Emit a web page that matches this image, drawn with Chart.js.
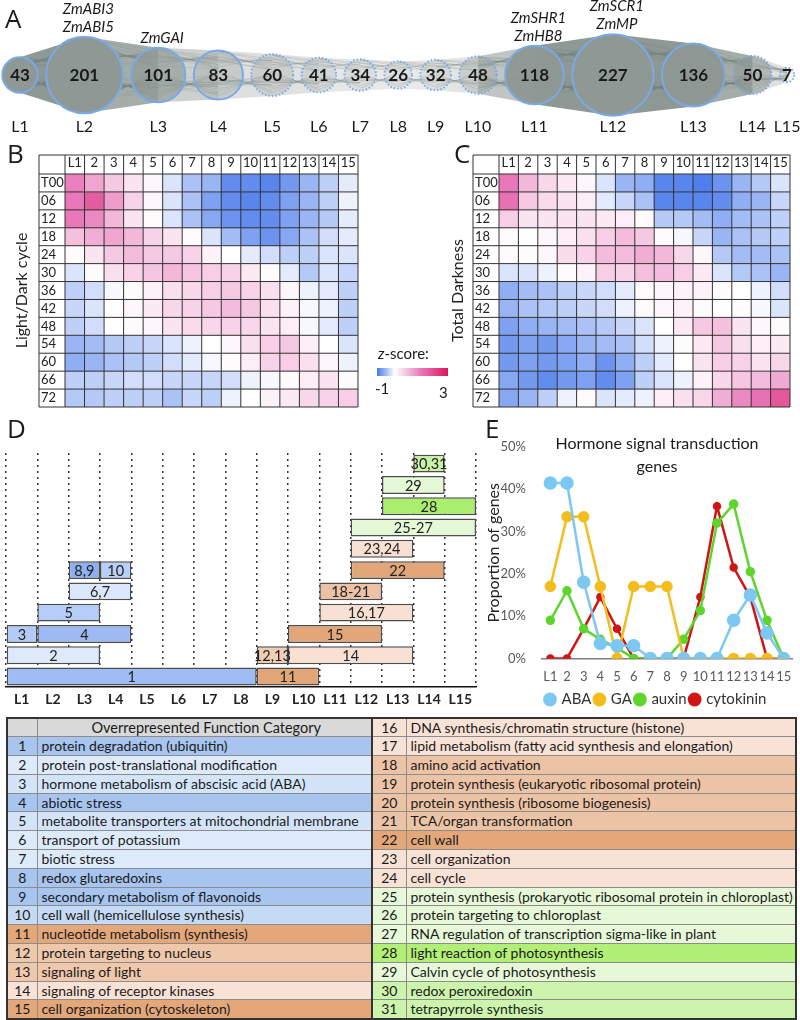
<!DOCTYPE html>
<html>
<head>
<meta charset="utf-8">
<title>Maize root module network</title>
<script src="https://cdn.jsdelivr.net/npm/chart.js@4.4.1/dist/chart.umd.min.js"></script>
<style>
  html, body { margin: 0; padding: 0; background: #fff; overflow: hidden; }
  body { position: relative; width: 800px; height: 1020px; font-family: Lato, sans-serif; color: #1b1b1b; }
  .pane { position: absolute; }
  .letter { position: absolute; font-family: 'Open Sans', sans-serif; font-size: 26px; line-height: 26px; z-index: 3; }
  #zkey { position: absolute; left: 372px; top: 353px; width: 84px; font-size: 15px; z-index: 3; }
  #zkey .bar { position: absolute; left: 5px; top: 15px; width: 71px; height: 8px;
    background: linear-gradient(to right, rgb(70,120,235) 0%, #fff 25%, rgb(232,120,185) 62%, rgb(222,20,95) 100%); }
  #zkey .t { position: absolute; left: 6px; top: -9px; white-space: nowrap; }
  #zkey .lo { position: absolute; left: 3px; top: 26px; }
  #zkey .hi { position: absolute; left: 67px; top: 30px; }
  #eTitle { position: absolute; left: 517px; width: 280px; top: 431px; text-align: center; font-size: 16px; line-height: 23px; z-index: 3; }
  #catTable { position: absolute; left: 6px; top: 717px; width: 789px; border-collapse: collapse; table-layout: fixed; font-size: 14px; border: 2px solid #333; }
  #catTable tr { height: 18.8px; }
  #catTable td { padding: 0 0 0 4px; border: 1px solid #8c8c8c; white-space: nowrap; overflow: hidden; line-height: 16px; }
  #catTable td.n { text-align: center; padding: 0; }
  #catTable td.mid { border-left: 2px solid #333; }
  #catTable td.head { background: #d9d9d9; text-align: center; font-size: 14.5px; }
</style>
</head>
<body>
<div class="letter" style="left:5px;top:5px">A</div>
<div class="letter" style="left:7px;top:140px">B</div>
<div class="letter" style="left:454px;top:140px">C</div>
<div class="letter" style="left:7px;top:415px">D</div>
<div class="letter" style="left:485px;top:415px">E</div>

<div class="pane" style="left:0;top:0;width:800px;height:140px"><canvas id="netChart"></canvas></div>
<div class="pane" style="left:0;top:140px;width:400px;height:270px"><canvas id="lightChart"></canvas></div>
<div class="pane" style="left:400px;top:140px;width:400px;height:270px"><canvas id="darkChart"></canvas></div>
<div class="pane" style="left:0;top:440px;width:490px;height:272px"><canvas id="enrichChart"></canvas></div>
<div class="pane" style="left:480px;top:415px;width:320px;height:302px"><canvas id="hormoneChart"></canvas></div>

<div id="zkey"><span class="t"><i>z</i>-score:</span><div class="bar"></div><span class="lo">-1</span><span class="hi">3</span></div>
<div id="eTitle">Hormone signal transduction<br>genes</div>
<table id="catTable"></table>

<script>
// ---- data ----
const moduleNames = ['L1', 'L2', 'L3', 'L4', 'L5', 'L6', 'L7', 'L8', 'L9', 'L10', 'L11', 'L12', 'L13', 'L14', 'L15'];
const moduleTicks = ['L1', '2', '3', '4', '5', '6', '7', '8', '9', '10', '11', '12', '13', '14', '15'];
const moduleSizes = [43, 201, 101, 83, 60, 41, 34, 26, 32, 48, 118, 227, 136, 50, 7];
const hubGenes = [[], ['ZmABI3', 'ZmABI5'], ['ZmGAI'], [], [], [], [], [], [], [], ['ZmSHR1', 'ZmHB8'], ['ZmSCR1', 'ZmMP'], [], [], []];
// how dense the edge bundles look between neighbours, and inside each module
const linkDensity = [1, 0.8, 0.45, 0.3, 0.28, 0.22, 0.2, 0.2, 0.25, 0.55, 1, 1, 0.8, 0.3];
const moduleDensity = [1, 1, 0.6, 0.3, 0.25, 0.2, 0.15, 0.12, 0.15, 0.3, 0.95, 1, 0.95, 0.55, 0.1];

const hourLabels = ['T00', '06', '12', '18', '24', '30', '36', '42', '48', '54', '60', '66', '72'];
const zLight = [
  [1.4, 1.0, 0.6, 0.3, 0.1, -0.2, -0.45, -0.55, -0.85, -0.85, -0.9, -0.75, -0.55, -0.35, -0.15],
  [1.5, 1.9, 1.1, 0.5, 0.1, -0.2, -0.45, -0.7, -0.85, -0.9, -0.85, -0.7, -0.55, -0.35, -0.1],
  [1.5, 1.3, 0.8, 0.3, 0.05, -0.2, -0.45, -0.65, -0.8, -0.85, -0.85, -0.7, -0.55, -0.4, -0.15],
  [0.7, 0.9, 1.0, 0.8, 0.5, 0.3, 0.05, -0.2, -0.5, -0.7, -0.8, -0.65, -0.45, -0.25, -0.15],
  [0.05, 0.3, 0.6, 0.75, 0.6, 0.6, 0.5, 0.15, 0.0, -0.15, -0.25, -0.35, -0.35, -0.2, -0.2],
  [-0.2, 0.05, 0.35, 0.5, 0.65, 0.8, 0.65, 0.55, 0.5, 0.25, 0.05, -0.15, -0.4, -0.2, -0.3],
  [-0.35, -0.25, -0.05, 0.05, 0.15, 0.35, 0.45, 0.55, 0.6, 0.5, 0.35, 0.1, -0.1, -0.15, -0.35],
  [-0.3, -0.2, 0.0, 0.1, 0.25, 0.45, 0.5, 0.6, 0.75, 0.6, 0.35, 0.15, -0.05, -0.1, -0.35],
  [-0.35, -0.25, 0.0, 0.05, 0.1, 0.3, 0.4, 0.45, 0.5, 0.45, 0.3, 0.2, -0.05, -0.15, -0.35],
  [-0.55, -0.5, -0.4, -0.35, -0.3, -0.2, -0.1, 0.0, 0.1, 0.35, 0.55, 0.6, 0.2, 0.0, -0.2],
  [-0.6, -0.55, -0.45, -0.4, -0.35, -0.25, -0.15, -0.05, 0.05, 0.2, 0.5, 0.55, 0.35, 0.1, -0.1],
  [-0.35, -0.35, -0.3, -0.25, -0.25, -0.3, -0.3, -0.3, -0.25, -0.1, -0.05, 0.05, 0.2, 0.3, 0.05],
  [-0.4, -0.4, -0.35, -0.35, -0.35, -0.45, -0.3, -0.35, -0.1, 0.0, 0.15, 0.25, 0.45, 0.5, 0.55]
];
const zDark = [
  [1.5, 0.8, 0.45, 0.25, 0.1, -0.2, -0.55, -0.6, -0.9, -0.9, -0.95, -0.8, -0.55, -0.4, -0.2],
  [1.6, 0.6, 0.4, 0.3, 0.2, -0.15, -0.3, -0.45, -0.9, -0.9, -0.9, -0.85, -0.6, -0.55, -0.3],
  [0.55, 0.3, 0.3, 0.3, 0.3, 0.25, 0.2, 0.05, -0.4, -0.4, -0.5, -0.6, -0.5, -0.45, -0.35],
  [0.05, 0.0, 0.1, 0.2, 0.35, 0.55, 0.75, 0.6, 0.05, -0.05, -0.3, -0.55, -0.45, -0.4, -0.35],
  [0.05, 0.05, 0.1, 0.4, 0.5, 0.75, 0.75, 0.9, 0.8, 0.45, 0.1, -0.4, -0.5, -0.5, -0.45],
  [-0.2, -0.2, -0.1, 0.05, 0.15, 0.55, 0.5, 0.7, 0.75, 0.55, 0.25, -0.2, -0.4, -0.45, -0.55],
  [-0.6, -0.5, -0.45, -0.35, -0.3, -0.25, -0.15, 0.05, 0.1, 0.15, 0.15, 0.05, 0.0, -0.1, -0.25],
  [-0.55, -0.45, -0.4, -0.35, -0.3, -0.25, -0.1, 0.05, 0.1, 0.15, 0.05, 0.0, 0.05, -0.05, -0.2],
  [-0.7, -0.6, -0.55, -0.5, -0.45, -0.4, -0.3, -0.2, 0.0, 0.25, 0.6, 0.7, 0.3, 0.1, 0.05],
  [-0.75, -0.7, -0.75, -0.65, -0.55, -0.5, -0.45, -0.25, -0.1, 0.05, 0.25, 0.6, 0.35, 0.2, 0.25],
  [-0.75, -0.7, -0.75, -0.7, -0.6, -0.8, -0.6, -0.35, -0.15, 0.0, 0.3, 0.55, 0.5, 0.3, 0.45],
  [-0.65, -0.75, -0.85, -0.75, -0.7, -0.85, -0.7, -0.35, -0.2, -0.1, 0.15, 0.45, 0.65, 0.75, 0.95],
  [-0.65, -0.55, -0.35, -0.1, 0.05, -0.2, -0.15, -0.1, 0.2, 0.35, 0.45, 0.9, 1.3, 1.6, 2.0]
];

// D: enriched categories, spanning modules L(from)..L(to), stacked in rows counted from the bottom
const spanText = ['1', '11', '2', '12,13', '14', '3', '4', '15', '5', '16,17', '6,7', '18-21', '8,9', '10', '22', '23,24', '25-27', '28', '29', '30,31'];
const spanFrom = [1, 9, 1, 9, 10, 1, 2, 10, 2, 11, 3, 11, 3, 4, 12, 12, 12, 13, 13, 14];
const spanTo   = [8, 10, 3, 9, 13, 1, 4, 12, 3, 13, 4, 12, 3, 4, 14, 13, 15, 15, 14, 14];
const spanRow  = [1, 1, 2, 2, 2, 3, 3, 3, 4, 4, 5, 5, 6, 6, 6, 7, 8, 9, 10, 11];
const rowIds = ['1', '2', '3', '4', '5', '6', '7', '8', '9', '10', '11'];

// E: share of hormone signal transduction genes per module (%)
const abaShare       = [41.5, 41.5, 18, 3.5, 3, 3, 0, 0, 0, 0, 0, 9, 15, 6, 0];
const gaShare        = [17, 33.5, 33.5, 17, 0, 17, 17, 17, 0, 0, 0, 0, 0, 0, 0];
const auxinShare     = [9, 16, 7, 4.5, 2.5, 0, 0, 0, 4.5, 11.3, 32, 36.5, 20.5, 9, 0];
const cytokininShare = [0, 0, 7, 14.5, 7, 0, 0, 0, 0, 14.5, 36, 21.5, 14.5, 0, 0];

const categoryNames = [
  'protein degradation (ubiquitin)',
  'protein post-translational modification',
  'hormone metabolism of abscisic acid (ABA)',
  'abiotic stress',
  'metabolite transporters at mitochondrial membrane',
  'transport of potassium',
  'biotic stress',
  'redox glutaredoxins',
  'secondary metabolism of flavonoids',
  'cell wall (hemicellulose synthesis)',
  'nucleotide metabolism (synthesis)',
  'protein targeting to nucleus',
  'signaling of light',
  'signaling of receptor kinases',
  'cell organization (cytoskeleton)',
  'DNA synthesis/chromatin structure (histone)',
  'lipid metabolism (fatty acid synthesis and elongation)',
  'amino acid activation',
  'protein synthesis (eukaryotic ribosomal protein)',
  'protein synthesis (ribosome biogenesis)',
  'TCA/organ transformation',
  'cell wall',
  'cell organization',
  'cell cycle',
  'protein synthesis (prokaryotic ribosomal protein in chloroplast)',
  'protein targeting to chloroplast',
  'RNA regulation of transcription sigma-like in plant',
  'light reaction of photosynthesis',
  'Calvin cycle of photosynthesis',
  'redox peroxiredoxin',
  'tetrapyrrole synthesis'
];

// ---- styles ----
const categoryFill = ['#a7c5ef', '#ddeafa', '#d4e4f8', '#a7c5ef', '#d4e4f8', '#ddeafa', '#ddeafa', '#a7c5ef', '#a7c5ef', '#c5daf4',
  '#e4a77a', '#efc8ab', '#efc8ab', '#f8e2d5', '#e4a77a',
  '#f8e2d5', '#f8e2d5', '#edc3a6', '#edc3a6', '#edc3a6', '#edc3a6', '#e4a77a', '#f8e2d5', '#f8e2d5',
  '#e6f8d7', '#e6f8d7', '#e6f8d7', '#b2ef76', '#e6f8d7', '#cdf4ac', '#cdf4ac'];
const spanFill = ['#9fbcf4', '#e3a679', '#deeafc', '#f0cdb4', '#f8e1d3', '#b3cbf6', '#9dbaf3', '#e3a679', '#b5cdf7', '#f8e1d3',
  '#dae7fc', '#edc1a5', '#8eb0f0', '#b8cff8', '#e3a679', '#f8e1d3', '#e5f9d6', '#a9ee6c', '#e5f9d6', '#c9f2a6'];
const dottedRing = [false, false, false, false, true, true, true, true, true, true, false, false, false, true, true];
const ringColor = '#7ba9e6';
const edgeGray = '142,152,148';

Chart.defaults.font.family = 'Lato, sans-serif';
Chart.defaults.color = '#222';
Chart.defaults.animation = false;
Chart.defaults.events = [];
Chart.defaults.plugins.legend.display = false;
Chart.defaults.plugins.tooltip.enabled = false;
Chart.defaults.maintainAspectRatio = false;

// ---- A: module network ----
const ringScale = 2.7, ringGap = 8.4;
const moduleR = moduleSizes.map(n => ringScale * Math.sqrt(n));
const moduleX = [];
let cx = 20;
moduleR.forEach((r, i) => {
  if (i > 0) cx += moduleR[i - 1] + r + ringGap;
  moduleX.push(cx);
});

const networkLinks = {
  id: 'networkLinks',
  beforeDatasetsDraw(chart) {
    const ctx = chart.ctx;
    const pts = chart.getDatasetMeta(0).data;
    ctx.save();
    for (let i = 0; i < pts.length - 1; i++) {
      for (let j = i + 1; j <= Math.min(i + 3, pts.length - 1); j++) {
        const a = pts[i], b = pts[j];
        const ra = a.options.radius, rb = b.options.radius;
        const w = linkDensity[i] * (j === i + 1 ? 1 : 0.35 / (j - i));
        if (j === i + 1) {
          ctx.fillStyle = 'rgba(' + edgeGray + ',' + w + ')';
          ctx.beginPath();
          ctx.moveTo(a.x, a.y - ra);
          ctx.lineTo(b.x, b.y - rb);
          ctx.lineTo(b.x, b.y + rb);
          ctx.lineTo(a.x, a.y + ra);
          ctx.closePath();
          ctx.fill();
        }
        ctx.strokeStyle = 'rgba(118,128,124,0.45)';
        ctx.lineWidth = 0.5;
        ctx.beginPath();
        const n = Math.round(45 * w);
        for (let k = 0; k < n; k++) {
          const u = (k * 0.618034) % 1, v = (k * 0.381966 + 0.37) % 1;
          ctx.moveTo(a.x, a.y + ra * (2 * u - 1) * 0.95);
          ctx.lineTo(b.x, b.y + rb * (2 * v - 1) * 0.95);
        }
        ctx.stroke();
      }
    }
    ctx.restore();
  },
  afterDatasetsDraw(chart) {
    const ctx = chart.ctx;
    const pts = chart.getDatasetMeta(0).data;
    ctx.save();
    pts.forEach((p, i) => {
      if (!dottedRing[i]) return;
      ctx.strokeStyle = ringColor;
      ctx.lineWidth = 2;
      ctx.setLineDash([1.5, 2]);
      ctx.beginPath();
      ctx.arc(p.x, p.y, p.options.radius, 0, Math.PI * 2);
      ctx.stroke();
    });
    ctx.setLineDash([]);
    ctx.textAlign = 'center';
    ctx.textBaseline = 'middle';
    pts.forEach((p, i) => {
      const r = p.options.radius;
      ctx.fillStyle = '#1a1a1a';
      ctx.font = 'bold 17px Lato, sans-serif';
      ctx.fillText(moduleSizes[i], p.x, p.y + 1);
      ctx.font = '16px Lato, sans-serif';
      ctx.fillText(moduleNames[i], p.x, chart.chartArea.bottom - 13);
      ctx.font = 'italic 15px Lato, sans-serif';
      const g = hubGenes[i];
      g.forEach((name, k) => {
        ctx.fillText(name, p.x + 4, p.y - r - 10 - (g.length - 1 - k) * 18);
      });
    });
    ctx.restore();
  }
};

new Chart(document.getElementById('netChart'), {
  type: 'bubble',
  data: {
    datasets: [{
      data: moduleSizes.map((n, i) => ({ x: moduleX[i], y: 0, r: moduleR[i] })),
      backgroundColor: moduleDensity.map(d => 'rgba(' + edgeGray + ',' + d + ')'),
      borderColor: ringColor,
      borderWidth: dottedRing.map(d => d ? 0 : 2),
      clip: false
    }]
  },
  options: {
    layout: { padding: 0, autoPadding: false },
    scales: {
      x: { type: 'linear', display: false, min: 0, max: 800 },
      y: { type: 'linear', display: false, min: -65, max: 75 }
    }
  },
  plugins: [networkLinks]
});

// ---- B, C: z-score heatmaps ----
function mix(c1, c2, t) {
  return 'rgb(' + c1.map((v, k) => Math.round(v + (c2[k] - v) * t)).join(',') + ')';
}
function zColor(v) {
  if (v < 0) return mix([255, 255, 255], [70, 120, 235], Math.min(1, -v));
  if (v < 1.5) return mix([255, 255, 255], [232, 120, 185], v / 1.5);
  return mix([232, 120, 185], [222, 20, 95], Math.min(1, (v - 1.5) / 1.5));
}
function noPad(s) {
  s.paddingTop = 0; s.paddingBottom = 0; s.paddingLeft = 0; s.paddingRight = 0;
}

const cellLines = {
  id: 'cellLines',
  afterDatasetsDraw(chart) {
    const { ctx, chartArea: a, scales: { y } } = chart;
    const head = 19, side = 26;
    const n = moduleTicks.length;
    ctx.save();
    ctx.strokeStyle = '#333';
    ctx.lineWidth = 1;
    ctx.beginPath();
    ctx.moveTo(a.left - side, a.top - head);
    ctx.lineTo(a.left - side, a.bottom);
    for (let c = 0; c <= n; c++) {
      const px = a.left + c * a.width / n;
      ctx.moveTo(px, a.top - head);
      ctx.lineTo(px, a.bottom);
    }
    ctx.moveTo(a.left - side, a.top - head);
    ctx.lineTo(a.right, a.top - head);
    for (let r = 0; r <= hourLabels.length; r++) {
      const py = y.getPixelForValue(r);
      ctx.moveTo(a.left - side, py);
      ctx.lineTo(a.right, py);
    }
    ctx.stroke();
    ctx.restore();
  }
};

function heatChart(id, z, title, padLeft, titleW, padRight) {
  return new Chart(document.getElementById(id), {
    type: 'bar',
    data: {
      labels: moduleTicks,
      datasets: hourLabels.map((h, r) => ({
        label: h,
        data: moduleTicks.map(() => [r, r + 1]),
        backgroundColor: z[r].map(zColor),
        borderWidth: 0,
        grouped: false,
        barPercentage: 1,
        categoryPercentage: 1
      }))
    },
    options: {
      layout: { padding: { left: padLeft, right: padRight, top: 15, bottom: 3 } },
      scales: {
        x: {
          position: 'top', offset: true,
          grid: { display: false, drawTicks: false }, border: { display: false },
          ticks: { font: { size: 13 }, color: '#222', padding: 3, autoSkip: false, maxRotation: 0 },
          afterFit: s => { s.height = 19; noPad(s); }
        },
        y: {
          type: 'linear', min: 0, max: 13, reverse: true, position: 'left', weight: 2,
          grid: { display: false, drawTicks: false }, border: { display: false },
          ticks: { display: false },
          title: { display: true, text: title, font: { size: 16 }, color: '#222', padding: { top: 4, bottom: 0 } },
          afterFit: s => { s.width = titleW; noPad(s); }
        },
        y2: {
          type: 'category', labels: hourLabels, position: 'left', offset: true, weight: 1,
          grid: { display: false, drawTicks: false }, border: { display: false },
          ticks: { crossAlign: 'far', font: { size: 13 }, color: '#222', autoSkip: false },
          afterFit: s => { s.width = 24; noPad(s); }
        }
      }
    },
    plugins: [cellLines]
  });
}
heatChart('lightChart', zLight, 'Light/Dark cycle', 8, 33, 42);
heatChart('darkChart', zDark, 'Total Darkness', 44, 31, 10);

// ---- D: enriched function categories along the modules ----
const spanLabels = {
  id: 'spanLabels',
  afterDatasetsDraw(chart) {
    const ctx = chart.ctx;
    ctx.save();
    ctx.font = '14.5px Lato, sans-serif';
    ctx.fillStyle = '#222';
    ctx.textAlign = 'center';
    ctx.textBaseline = 'middle';
    chart.getDatasetMeta(0).data.forEach((bar, i) => {
      ctx.fillText(spanText[i], (bar.x + bar.base) / 2, bar.y + 1);
    });
    ctx.restore();
  }
};

new Chart(document.getElementById('enrichChart'), {
  type: 'bar',
  data: {
    datasets: [{
      data: spanText.map((t, i) => ({ x: [spanFrom[i] - 1, spanTo[i]], y: String(spanRow[i]) })),
      backgroundColor: spanFill,
      borderColor: '#4d4d4d',
      borderWidth: 1.5,
      borderSkipped: false,
      barPercentage: 0.84,
      categoryPercentage: 1
    }]
  },
  options: {
    indexAxis: 'y',
    layout: { padding: { left: 6, right: 14, top: 13, bottom: 0 } },
    scales: {
      x: {
        type: 'linear', min: 0, max: 15, position: 'bottom',
        ticks: { display: false, stepSize: 1 },
        grid: { color: '#333', lineWidth: 1.5, drawTicks: false },
        border: { display: false, dash: [2, 4] }
      },
      x2: {
        type: 'category', labels: moduleNames, position: 'bottom', offset: true,
        grid: { display: false, drawTicks: false },
        border: { display: true, color: '#111', width: 1.5 },
        ticks: { font: { size: 14, weight: 'bold' }, color: '#222', padding: 4, autoSkip: false, maxRotation: 0 }
      },
      y: { type: 'category', labels: rowIds, reverse: true, display: false }
    }
  },
  plugins: [spanLabels]
});

// ---- E: hormone signal transduction genes ----
function hormoneLine(label, data, color, radius) {
  return { label, data, borderColor: color, backgroundColor: color, pointRadius: radius, borderWidth: 2.5, pointStyle: 'circle' };
}
new Chart(document.getElementById('hormoneChart'), {
  type: 'line',
  data: {
    labels: moduleTicks,
    datasets: [
      hormoneLine('ABA', abaShare, '#7cc8f2', 5.5),
      hormoneLine('GA', gaShare, '#f2bd1d', 4.5),
      hormoneLine('auxin', auxinShare, '#5cd62c', 3.5),
      hormoneLine('cytokinin', cytokininShare, '#d01515', 3)
    ]
  },
  options: {
    layout: { padding: { left: 2, right: 3, top: 32, bottom: 0 } },
    plugins: {
      legend: {
        display: true, position: 'bottom', align: 'start', fullSize: false,
        labels: { usePointStyle: true, boxWidth: 8, boxHeight: 8, font: { size: 15 }, color: '#333', padding: 4 }
      }
    },
    scales: {
      x: {
        offset: true,
        grid: { display: false },
        border: { color: '#7f7f7f', width: 1.5 },
        ticks: { font: { size: 13 }, color: '#595959', padding: 3, autoSkip: false, maxRotation: 0 }
      },
      y: {
        min: 0, max: 50,
        grid: { display: false }, border: { display: false },
        ticks: { stepSize: 10, callback: v => v + '%', font: { size: 13 }, color: '#595959', padding: 8 },
        title: { display: true, text: 'Proportion of genes', font: { size: 16 }, color: '#222', padding: { top: 2, bottom: 2 } },
        afterFit: s => { s.width = 60; }
      }
    }
  }
});

// ---- table of categories ----
const table = document.getElementById('catTable');
const colgroup = document.createElement('colgroup');
[30, 335, 34, 390].forEach(w => {
  const col = document.createElement('col');
  col.style.width = w + 'px';
  colgroup.appendChild(col);
});
table.appendChild(colgroup);
for (let k = 0; k < 16; k++) {
  const tr = document.createElement('tr');
  const cells = [];
  if (k === 0) {
    cells.push(['', 'n head'], ['Overrepresented Function Category', 'head']);
  } else {
    cells.push([String(k), 'n', categoryFill[k - 1]], [categoryNames[k - 1], '', categoryFill[k - 1]]);
  }
  const rc = 15 + k;
  cells.push([String(rc + 1), 'n mid', categoryFill[rc]], [categoryNames[rc], '', categoryFill[rc]]);
  cells.forEach(([text, cls, fill]) => {
    const td = document.createElement('td');
    td.textContent = text;
    if (cls) td.className = cls;
    if (fill) td.style.background = fill;
    tr.appendChild(td);
  });
  table.appendChild(tr);
}
</script>
</body>
</html>
